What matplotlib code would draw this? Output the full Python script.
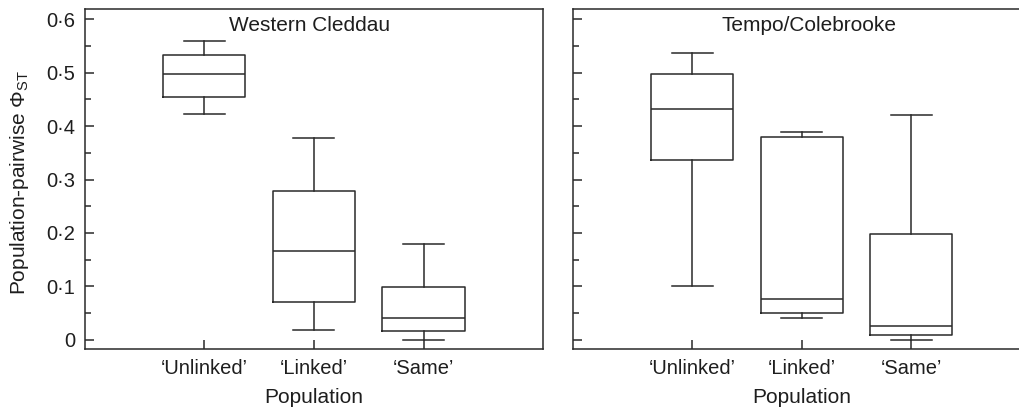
import matplotlib
matplotlib.use("Agg")
from matplotlib import pyplot as plt
from matplotlib.ticker import MultipleLocator, FixedLocator, FuncFormatter

plt.rcParams['font.family'] = ['Liberation Sans', 'DejaVu Sans']
plt.rcParams['mathtext.fontset'] = 'custom'
plt.rcParams['mathtext.rm'] = 'Liberation Sans'
plt.rcParams['mathtext.it'] = 'Liberation Sans:italic'

categories = ['\u2018Unlinked\u2019', '\u2018Linked\u2019', '\u2018Same\u2019']
panels = ['Western Cleddau', 'Tempo/Colebrooke']

# whisker low, Q1, median, Q3, whisker high
wc_low = [0.423, 0.019, 0.000]
wc_q1 = [0.454, 0.071, 0.017]
wc_med = [0.498, 0.166, 0.041]
wc_q3 = [0.533, 0.279, 0.099]
wc_high = [0.560, 0.377, 0.179]

tc_low = [0.100, 0.040, 0.000]
tc_q1 = [0.336, 0.051, 0.010]
tc_med = [0.432, 0.077, 0.025]
tc_q3 = [0.497, 0.379, 0.199]
tc_high = [0.536, 0.389, 0.421]

data = [
    (wc_low, wc_q1, wc_med, wc_q3, wc_high),
    (tc_low, tc_q1, tc_med, tc_q3, tc_high),
]

col = '#2a2a2a'
txt = '#1e1e1e'
lw = 1.1
fs = 15

fig = plt.figure(figsize=(10.2, 4.11), dpi=100)
ax1 = fig.add_axes([0.0833, 0.151, 0.449, 0.827])
ax2 = fig.add_axes([0.5615, 0.151, 0.449, 0.827])
title_x = [0.491, 0.516]


def fmt(v, pos):
    if abs(v) < 1e-9:
        return '0'
    return ('%.1f' % v).replace('.', '\u00b7')


for i, ax in enumerate([ax1, ax2]):
    low, q1, med, q3, high = data[i]
    stats = []
    for j in range(len(categories)):
        stats.append(dict(whislo=low[j], q1=q1[j], med=med[j], q3=q3[j],
                          whishi=high[j], label=categories[j]))
    ax.bxp(stats, positions=[1, 2, 3], widths=0.75, capwidths=0.375,
           showfliers=False,
           boxprops=dict(color=col, linewidth=lw),
           whiskerprops=dict(color=col, linewidth=lw),
           capprops=dict(color=col, linewidth=lw),
           medianprops=dict(color=col, linewidth=lw))
    ax.set_xlim(-0.09, 4.09)
    ax.set_ylim(-0.017, 0.619)
    ax.xaxis.set_major_locator(FixedLocator([1, 2, 3]))
    ax.set_xticklabels(categories)
    ax.yaxis.set_major_locator(MultipleLocator(0.1))
    ax.yaxis.set_minor_locator(MultipleLocator(0.05))
    ax.yaxis.set_major_formatter(FuncFormatter(fmt))
    ax.tick_params(axis='both', which='major', direction='in', length=6.3,
                   width=lw, color=col, labelsize=14.5, labelcolor=txt)
    ax.tick_params(axis='y', which='minor', direction='in', length=4.0,
                   width=lw, color=col)
    ax.tick_params(axis='x', pad=7)
    ax.tick_params(axis='y', pad=7)
    for s in ax.spines.values():
        s.set_color(col)
        s.set_linewidth(lw)
    ax.text(title_x[i], 0.953, panels[i], transform=ax.transAxes,
            ha='center', va='center', fontsize=fs, color=txt)
    ax.set_xlabel('Population', fontsize=fs, color=txt)
    ax.xaxis.set_label_coords(0.5, -0.115)

ax2.tick_params(axis='y', labelleft=False)
ax1.set_ylabel(r'Population-pairwise $\mathit{\Phi}_{\mathrm{ST}}$',
               fontsize=fs, color=txt)
ax1.yaxis.set_label_coords(-0.118, 0.49)

fig.savefig('out.png', dpi=100)
